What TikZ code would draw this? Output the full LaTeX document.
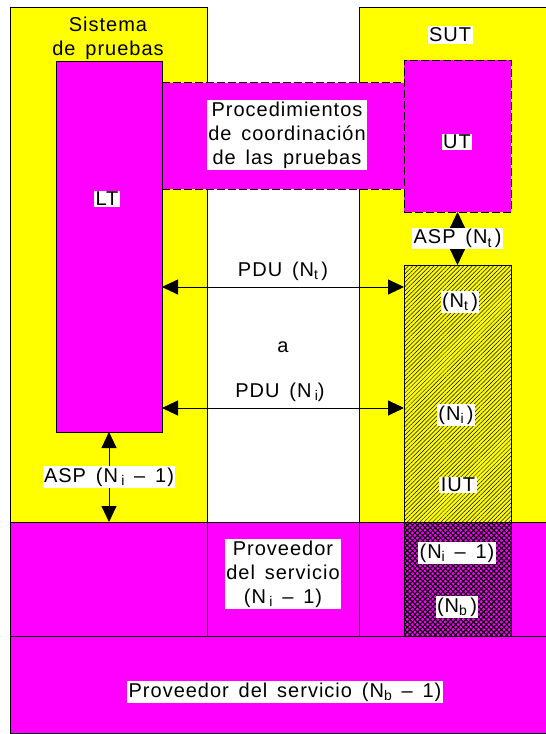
\documentclass[tikz,border=0pt]{standalone}
\usepackage{fontspec}
\setmainfont{Liberation Sans}[LetterSpace=5, WordSpace=1.5]
\usepackage{tikz}
\usetikzlibrary{arrows.meta, patterns.meta}

\definecolor{sysyellow}{RGB}{255,255,0}
\definecolor{provmag}{RGB}{255,0,255}

% lowered small index, as in N_t
\newcommand{\low}[1]{\raisebox{-0.35ex}{\fontsize{14}{14}\selectfont #1}}

\begin{document}
\begin{tikzpicture}[
  x=1pt, y=-1pt,
  >={Triangle[length=16pt, width=15pt]},
  layer/.style={rectangle, draw=black, line width=0.9pt, inner sep=0pt, outer sep=0pt},
  yellowbox/.style={layer, fill=sysyellow},
  magbox/.style={layer, fill=provmag},
  dashbox/.style={magbox, dash pattern=on 8pt off 3pt},
  hatchbox/.style={yellowbox, postaction={pattern={Lines[angle=45, distance=3pt, line width=0.5pt]}}},
  checkbox/.style={magbox, postaction={pattern={Hatch[angle=45, distance=3.6pt, line width=1.1pt]}}},
  plain/.style={inner sep=1pt, font=\fontsize{20}{24}\selectfont, align=center},
  lbl/.style={plain, fill=white, inner sep=1.5pt},
  dblarrow/.style={<->, line width=0.9pt}
]
  \useasboundingbox (0,0) rectangle (546,734);

  % Test system and SUT
  \node[yellowbox, minimum width=197, minimum height=515] (sistema) at (108.5, 264.5) {};
  \node[yellowbox, minimum width=191, minimum height=515] (sut) at (454.5, 264.5) {};

  % Service provider band
  \node[magbox, minimum width=197, minimum height=114] (bandl) at (108.5, 579) {};
  \node[magbox, minimum width=152, minimum height=114] (bandm) at (283, 579) {};
  \node[magbox, minimum width=191, minimum height=114] (bandr) at (454.5, 579) {};
  \node[checkbox, minimum width=107, minimum height=114] (bandc) at (457.5, 579) {};
  \node[magbox, minimum width=540, minimum height=97] (bottom) at (280, 684.5) {};

  % IUT
  \node[hatchbox, minimum width=107, minimum height=257] (iut) at (457.5, 393.5) {};

  % Coordination procedures, LT and UT
  \node[rectangle, fill=provmag, inner sep=0pt, minimum width=242, minimum height=106] (coord) at (283, 136) {};
  \draw[line width=0.9pt, dash pattern=on 8pt off 3pt] (coord.north west) -- (coord.north east);
  \draw[line width=0.9pt, dash pattern=on 8pt off 3pt] (coord.south west) -- (coord.south east);
  \node[magbox, minimum width=106, minimum height=371] (lt) at (109, 246.5) {};
  \node[dashbox, minimum width=107, minimum height=152] (ut) at (457.5, 136) {};

  % Texts
  \node[plain] (sistxt) at (108, 38) {Sistema\\de pruebas};
  \node[lbl] (suttxt) at (450, 35) {SUT};
  \node[lbl] (lttxt) at (107, 199) {LT};
  \node[lbl] (coordtxt) at (287, 135) {Procedimientos\\de coordinación\\de las pruebas};
  \node[lbl] (uttxt) at (457, 142) {UT};
  \node[plain] (pdut) at (283, 271) {PDU (N\low{t}\,)};
  \node[plain] (atxt) at (283, 347) {a};
  \node[plain] (pdui) at (280, 392) {PDU (N\,\low{i})};
  \node[lbl] (nttxt) at (460, 302) {(N\low{t}\,)};
  \node[lbl] (nitxt) at (456, 415) {(N\low{i}\,)};
  \node[lbl] (iuttxt) at (458, 485) {IUT};
  \node[lbl] (provtxt) at (283, 574) {Proveedor\\del servicio\\(N\,\low{i} -- 1)};
  \node[lbl] (nimtxt) at (457, 553) {(N\low{i}\ -- 1)};
  \node[lbl] (nbtxt) at (457, 607) {(N\low{b}\,)};
  \node[lbl] (bottxt) at (285, 692) {Proveedor del servicio (N\low{b} -- 1)};

  % PDU exchanges
  \coordinate (pdutline) at (283, 287);
  \coordinate (pduiline) at (283, 408);
  \draw[dblarrow] (lt.east |- pdutline) -- (iut.west |- pdutline);
  \draw[dblarrow] (lt.east |- pduiline) -- (iut.west |- pduiline);

  % ASP exchanges
  \draw[dblarrow] (ut.south) -- node[lbl] {ASP (N\low{t}\,)} (iut.north);
  \draw[dblarrow] (lt.south) -- node[lbl] {ASP (N\,\low{i} -- 1)} (lt.south |- bandl.north);
\end{tikzpicture}
\end{document}
